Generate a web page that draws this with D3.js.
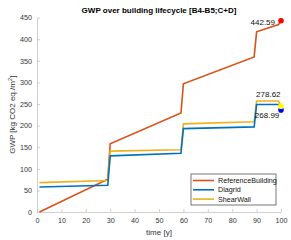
<!DOCTYPE html>
<html>
<head>
<meta charset="utf-8">
<script src="https://cdn.jsdelivr.net/npm/d3@7"></script>
<style>
  body { margin: 0; background: #fff; }
  text { font-family: "Liberation Sans", Arial, sans-serif; }
</style>
</head>
<body>
<div id="chart"></div>
<script>
// values
var years = [1, 29, 30, 59, 60, 89, 90, 99, 100];
var referenceBuilding = [0, 76, 158, 229, 297, 359, 417, 434, 442.59];
var diagrid = [58, 62, 130, 136, 193, 197, 249, 249, 236];
var shearWall = [68, 73, 141, 144, 204, 209, 257, 257, 245];
var seriesNames = ['ReferenceBuilding', 'Diagrid', 'ShearWall'];
var seriesColors = ['#D95319', '#0072BD', '#EDB120'];
var dotColors = ['#ff0000', '#0000ff', '#ffff00'];
var endLabels = ['442.59', '268.99', '278.62'];
var xTicks = [0, 10, 20, 30, 40, 50, 60, 70, 80, 90, 100];
var yTicks = [0, 50, 100, 150, 200, 250, 300, 350, 400, 450];

var width = 291, height = 240;
var margin = {left: 37, right: 10, top: 17.6, bottom: 28};

var svg = d3.select('#chart')
    .append('svg')
    .attr('width', width)
    .attr('height', height)

var x = d3.scaleLinear().domain([0, 100]).range([margin.left, width - margin.right])
var y = d3.scaleLinear().domain([0, 450]).range([height - margin.bottom, margin.top])

// axes (box off, ticks inward)
var xAxis = svg.append('g')
    .attr('transform', 'translate(0,' + y(0) + ')')
    .call(d3.axisBottom(x).tickValues(xTicks).tickSizeInner(-3).tickSizeOuter(0).tickPadding(6))
var yAxis = svg.append('g')
    .attr('transform', 'translate(' + x(0) + ',0)')
    .call(d3.axisLeft(y).tickValues(yTicks).tickSizeInner(-3).tickSizeOuter(0).tickPadding(5))

svg.selectAll('.domain').attr('stroke', '#c4c4c4').attr('stroke-width', 0.8)
svg.selectAll('.tick line').attr('stroke', '#c4c4c4').attr('stroke-width', 0.8)
svg.selectAll('.tick text').attr('fill', '#333').style('font-size', '7.2px')
    .style('font-family', '"Liberation Sans", Arial, sans-serif')

// lines
var allSeries = [referenceBuilding, diagrid, shearWall]
var line = d3.line()
    .x(function(d, i) { return x(years[i]) })
    .y(function(d) { return y(d) })

svg.selectAll('path.series')
    .data([allSeries[0], allSeries[2], allSeries[1]])
    .enter()
    .append('path')
    .attr('class', 'series')
    .attr('d', line)
    .attr('fill', 'none')
    .attr('stroke', function(d) { return seriesColors[allSeries.indexOf(d)] })
    .attr('stroke-width', 1.6)

// end markers
svg.selectAll('circle.end')
    .data(allSeries)
    .enter()
    .append('circle')
    .attr('class', 'end')
    .attr('cx', function(d) { return x(years[years.length - 1]) })
    .attr('cy', function(d) { return y(d[d.length - 1]) })
    .attr('r', 2.8)
    .attr('fill', function(d, i) { return dotColors[i] })

// end labels
svg.append('text')
    .attr('x', x(100) - 6)
    .attr('y', y(referenceBuilding[8]) + 4.5)
    .attr('text-anchor', 'end')
    .style('font-size', '8px')
    .attr('fill', '#111')
    .text(endLabels[0])
svg.append('text')
    .attr('x', x(94.3))
    .attr('y', y(diagrid[8]) + 8)
    .attr('text-anchor', 'middle')
    .style('font-size', '8px')
    .attr('fill', '#111')
    .text(endLabels[1])
svg.append('text')
    .attr('x', x(94.8))
    .attr('y', y(shearWall[8]) - 9)
    .attr('text-anchor', 'middle')
    .style('font-size', '8px')
    .attr('fill', '#111')
    .text(endLabels[2])

// title
svg.append('text')
    .attr('x', (x(0) + x(100)) / 2)
    .attr('y', 13)
    .attr('text-anchor', 'middle')
    .style('font-size', '8px')
    .style('font-weight', 'bold')
    .attr('fill', '#000')
    .text('GWP over building lifecycle [B4-B5;C+D]')

// axis labels
svg.append('text')
    .attr('x', (x(0) + x(100)) / 2)
    .attr('y', 235)
    .attr('text-anchor', 'middle')
    .style('font-size', '8px')
    .attr('fill', '#333')
    .text('time [y]')

var yl = svg.append('text')
    .attr('transform', 'translate(15,' + ((y(0) + y(450)) / 2) + ') rotate(-90)')
    .attr('text-anchor', 'middle')
    .style('font-size', '8px')
    .attr('fill', '#333')
yl.append('tspan').text('GWP [kg CO2 eq./m')
yl.append('tspan').attr('dy', -3).style('font-size', '5.5px').text('2')
yl.append('tspan').attr('dy', 3).text(']')

// legend
var legend = svg.append('g').attr('transform', 'translate(191,174)')
legend.append('rect')
    .attr('width', 85)
    .attr('height', 31)
    .attr('fill', '#fff')
    .attr('stroke', '#555')
    .attr('stroke-width', 0.8)
var items = legend.selectAll('g.item')
    .data(seriesNames)
    .enter()
    .append('g')
    .attr('class', 'item')
    .attr('transform', function(d, i) { return 'translate(0,' + (6.5 + i * 9.3) + ')' })
items.append('line')
    .attr('x1', 2).attr('x2', 23)
    .attr('stroke', function(d, i) { return seriesColors[i] })
    .attr('stroke-width', 1.6)
items.append('text')
    .attr('x', 27)
    .attr('y', 2.6)
    .style('font-size', '7.2px')
    .attr('fill', '#111')
    .text(function(d) { return d })
</script>
</body>
</html>
